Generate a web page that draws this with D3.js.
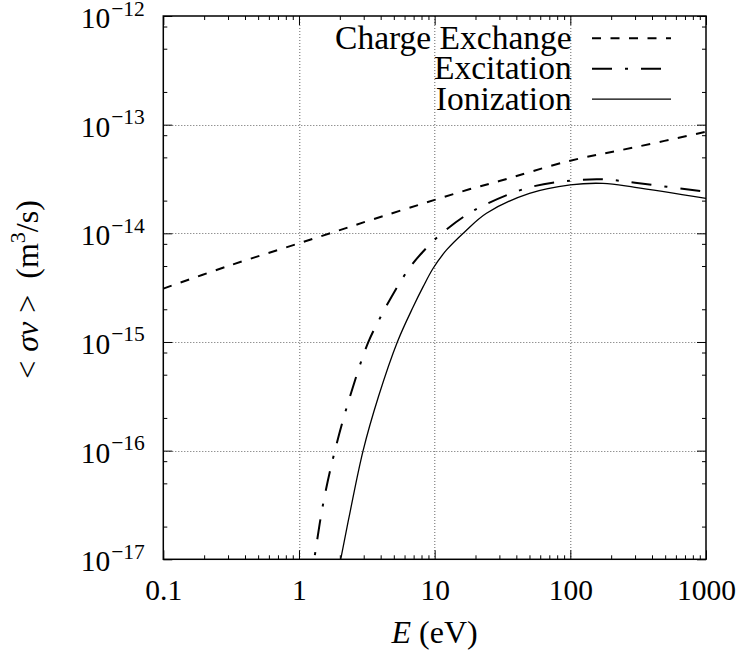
<!DOCTYPE html>
<html>
<head>
<meta charset="utf-8">
<script src="https://cdn.jsdelivr.net/npm/d3@7"></script>
<style>
  html, body { margin: 0; padding: 0; background: #fff; }
  svg { display: block; }
  text { font-family: "Liberation Serif", "Times New Roman", serif; fill: #000; white-space: pre; }
</style>
</head>
<body>
<script>
// Rate coefficients <σv> (m^3/s) against energy E (eV)
const energyCX = [0.1, 0.3, 1, 2, 3.16, 10, 18, 30, 100, 300, 1000];
const rateCX   = [3.1e-15, 5.0e-15, 8.1e-15, 1.07e-14, 1.29e-14, 2.03e-14, 2.54e-14, 3.03e-14, 4.66e-14, 6.2e-14, 8.6e-14];

const energyEx = [1.2, 1.295, 1.509, 1.84, 2.373, 3.237, 4.063, 4.814, 5.861, 6.759, 8.228, 10.92, 17.18, 24.78, 50, 100, 174, 300, 1000];
const rateEx   = [5.5e-18, 1e-17, 3.27e-17, 1e-16, 3.13e-16, 9.9e-16, 1.77e-15, 2.61e-15, 3.94e-15, 5.11e-15, 6.8e-15, 9.66e-15, 1.48e-14, 1.89e-14, 2.65e-14, 3.05e-14, 3.14e-14, 2.92e-14, 2.41e-14];

const energyIon = [1.9, 2.03, 2.37, 2.97, 3.85, 5.31, 6.95, 8.23, 9.75, 12.24, 16.7, 24.1, 50, 100, 174, 300, 1000];
const rateIon   = [6.9e-18, 1e-17, 2.65e-17, 1e-16, 3.13e-16, 1e-15, 2.11e-15, 3.23e-15, 4.77e-15, 7.03e-15, 1.035e-14, 1.53e-14, 2.33e-14, 2.79e-14, 2.88e-14, 2.65e-14, 2.10e-14];

const seriesNames = ["Charge Exchange", "Excitation", "Ionization"];

const xTickValues = [0.1, 1, 10, 100, 1000];
const xTickLabels = ["0.1", "1", "10", "100", "1000"];
const yTickValues = [1e-17, 1e-16, 1e-15, 1e-14, 1e-13, 1e-12];
const yTickExponents = ["−17", "−16", "−15", "−14", "−13", "−12"];

const W = 739, H = 657;
const margin = { top: 16, right: 33, bottom: 97.7, left: 163.3 };
const innerW = W - margin.left - margin.right;
const innerH = H - margin.top - margin.bottom;

const x = d3.scaleLog().domain([0.1, 1000]).range([0, innerW]);
const y = d3.scaleLog().domain([1e-17, 1e-12]).range([innerH, 0]);

// minor ticks: 2..9 per decade on E, 2, 5, 8 per decade on <σv>
const xMinor = [];
for (let d = -1; d < 3; d++) for (let m = 2; m <= 9; m++) xMinor.push(m * Math.pow(10, d));
const yMinor = [];
for (let d = -17; d < -12; d++) for (const m of [2, 5, 8]) yMinor.push(m * Math.pow(10, d));

const svg = d3.select("body").append("svg").attr("width", W).attr("height", H);
const g = svg.append("g").attr("transform", `translate(${margin.left},${margin.top})`);

svg.append("defs").append("clipPath").attr("id", "plotClip")
  .append("rect").attr("width", innerW).attr("height", innerH);

// grid
const grid = g.append("g").attr("stroke", "#666").attr("stroke-width", 1).attr("stroke-dasharray", "1,2");
grid.selectAll("line.vx").data([1, 10, 100]).join("line")
  .attr("x1", d => Math.round(x(d)) + 0.5).attr("x2", d => Math.round(x(d)) + 0.5)
  .attr("y1", 0).attr("y2", innerH);
grid.selectAll("line.hy").data([1e-16, 1e-15, 1e-14, 1e-13]).join("line")
  .attr("x1", 0).attr("x2", innerW)
  .attr("y1", d => Math.round(y(d)) + 0.5).attr("y2", d => Math.round(y(d)) + 0.5);

// axes with inward ticks on all four sides
function styleAxis(sel) {
  sel.select(".domain").remove();
  sel.attr("font-family", null);
  sel.selectAll("line").attr("stroke", "#000").attr("stroke-width", 1);
}
const majorLen = 9, minorLen = 4;

g.append("g").attr("transform", `translate(0,${innerH})`)
  .call(d3.axisBottom(x).tickValues(xMinor).tickSize(-minorLen).tickFormat(""))
  .call(styleAxis);
g.append("g")
  .call(d3.axisTop(x).tickValues(xMinor).tickSize(-minorLen).tickFormat(""))
  .call(styleAxis);
const xAxis = g.append("g").attr("transform", `translate(0,${innerH})`)
  .call(d3.axisBottom(x).tickValues(xTickValues).tickSize(-majorLen).tickPadding(19.5)
    .tickFormat((d, i) => xTickLabels[i]))
  .call(styleAxis);
xAxis.selectAll("text").attr("font-size", 29.5).attr("fill", "#000");
g.append("g")
  .call(d3.axisTop(x).tickValues(xTickValues).tickSize(-majorLen).tickFormat(""))
  .call(styleAxis);

g.append("g")
  .call(d3.axisLeft(y).tickValues(yMinor).tickSize(-minorLen).tickFormat(""))
  .call(styleAxis);
g.append("g").attr("transform", `translate(${innerW},0)`)
  .call(d3.axisRight(y).tickValues(yMinor).tickSize(-minorLen).tickFormat(""))
  .call(styleAxis);
const yAxis = g.append("g")
  .call(d3.axisLeft(y).tickValues(yTickValues).tickSize(-majorLen).tickFormat(""))
  .call(styleAxis);
g.append("g").attr("transform", `translate(${innerW},0)`)
  .call(d3.axisRight(y).tickValues(yTickValues).tickSize(-majorLen).tickFormat(""))
  .call(styleAxis);

// power-of-ten labels
yAxis.selectAll(".tick").each(function (d, i) {
  const t = d3.select(this).append("text")
    .attr("x", -18.5).attr("y", 11.5)
    .attr("text-anchor", "end")
    .attr("font-size", 29.5);
  t.append("tspan").text("10");
  t.append("tspan").attr("dx", 1).attr("dy", -12.5).attr("font-size", 21.5).text(yTickExponents[i]);
});

// frame
g.append("rect").attr("x", 0).attr("y", 0).attr("width", innerW).attr("height", innerH)
  .attr("fill", "none").attr("stroke", "#000").attr("stroke-width", 1.5);

// curves
const line = d3.line().x(d => x(d[0])).y(d => y(d[1])).curve(d3.curveCatmullRom.alpha(0.5));
const plot = g.append("g").attr("clip-path", "url(#plotClip)").attr("fill", "none").attr("stroke", "#000");

const styles = [
  { dash: "9,9.5", width: 2 },
  { dash: "20,13,3,13", width: 2 },
  { dash: null, width: 1.3 }
];
const series = [
  d3.zip(energyCX, rateCX),
  d3.zip(energyEx, rateEx),
  d3.zip(energyIon, rateIon)
];
series.forEach((pts, i) => {
  plot.append("path").attr("d", line(pts))
    .attr("stroke-width", styles[i].width)
    .attr("stroke-dasharray", styles[i].dash);
});

// legend
const legend = svg.append("g");
const legendTextX = 571.7, legendLineX1 = 592, legendLineX2 = 671;
const legendBase = [48.5, 79, 109.5];
seriesNames.forEach((name, i) => {
  legend.append("text").attr("x", legendTextX).attr("y", legendBase[i])
    .attr("text-anchor", "end").attr("font-size", 33.5).text(name);
  legend.append("line")
    .attr("x1", legendLineX1).attr("x2", legendLineX2)
    .attr("y1", legendBase[i] - 10.3).attr("y2", legendBase[i] - 10.3)
    .attr("stroke", "#000").attr("stroke-width", styles[i].width)
    .attr("stroke-dasharray", styles[i].dash);
});

// axis titles
const xt = svg.append("text")
  .attr("x", margin.left + innerW / 2).attr("y", 643)
  .attr("text-anchor", "middle").attr("font-size", 32);
xt.append("tspan").attr("font-style", "italic").text("E");
xt.append("tspan").attr("dx", 8).text("(eV)");

const yt = svg.append("text")
  .attr("transform", `translate(37.5,289.5) rotate(-90)`)
  .attr("text-anchor", "middle").attr("font-size", 32);
yt.append("tspan").text("<");
yt.append("tspan").attr("dx", 9).attr("font-style", "italic").text("σv");
yt.append("tspan").attr("dx", 9).text(">");
yt.append("tspan").attr("dx", 16).text("(m");
yt.append("tspan").attr("dy", -13).attr("font-size", 22).text("3");
yt.append("tspan").attr("dy", 13).text("/s)");
</script>
</body>
</html>
